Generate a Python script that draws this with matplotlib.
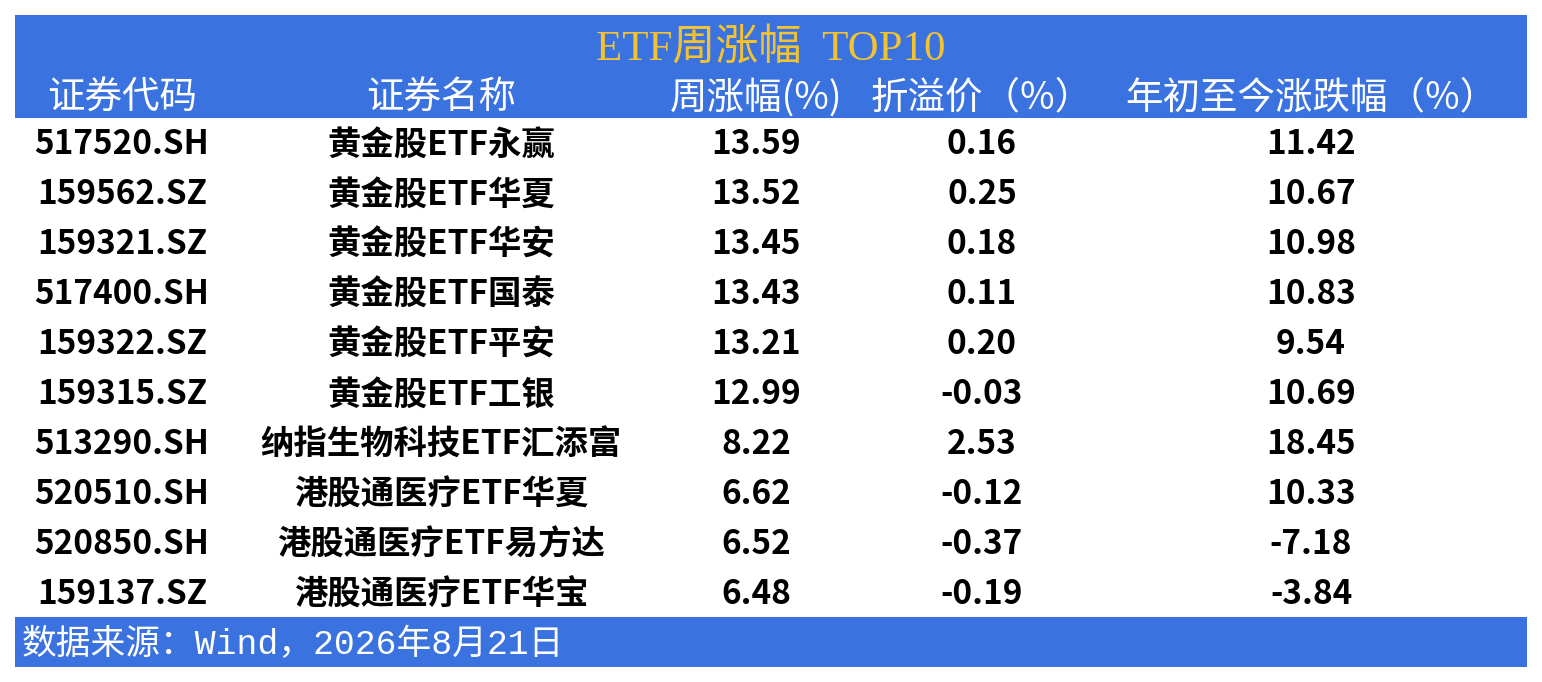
import matplotlib
matplotlib.use("Agg")
import matplotlib.pyplot as plt
from matplotlib.patches import Rectangle

plt.rcParams['font.family'] = ['Noto Sans CJK SC', 'DejaVu Sans']

title = "ETF周涨幅  TOP10"
headers = ["证券代码", "证券名称", "周涨幅(%)", "折溢价（%）", "年初至今涨跌幅（%）"]
codes = ["517520.SH", "159562.SZ", "159321.SZ", "517400.SH", "159322.SZ",
         "159315.SZ", "513290.SH", "520510.SH", "520850.SH", "159137.SZ"]
names = ["黄金股ETF永赢", "黄金股ETF华夏", "黄金股ETF华安", "黄金股ETF国泰", "黄金股ETF平安",
         "黄金股ETF工银", "纳指生物科技ETF汇添富", "港股通医疗ETF华夏", "港股通医疗ETF易方达", "港股通医疗ETF华宝"]
weekly = ["13.59", "13.52", "13.45", "13.43", "13.21", "12.99", "8.22", "6.62", "6.52", "6.48"]
premium = ["0.16", "0.25", "0.18", "0.11", "0.20", "-0.03", "2.53", "-0.12", "-0.37", "-0.19"]
ytd = ["11.42", "10.67", "10.98", "10.83", "9.54", "10.69", "18.45", "10.33", "-7.18", "-3.84"]
source = "数据来源：Wind，2026年8月21日"

blue = "#3A72E0"
gold = "#F2C232"

W, H = 1542, 682
fig = plt.figure(figsize=(W / 100, H / 100), dpi=100)
ax = fig.add_axes([0, 0, 1, 1])
ax.set_xlim(0, W)
ax.set_ylim(H, 0)
ax.axis("off")

left, right = 15, 1527
# header band and footer band
ax.add_patch(Rectangle((left, 15), right - left, 103, color=blue, lw=0))
ax.add_patch(Rectangle((left, 617), right - left, 50, color=blue, lw=0))

ax.text(771, 49, title, ha="center", va="center", fontsize=31, color=gold,
        family=["Liberation Serif", "Noto Sans CJK SC"])

col_x = [122, 441, 756, 982, 1311]
for x, h in zip(col_x, headers):
    ax.text(x, 98, h, ha="center", va="center", fontsize=27, color="white",
            fontweight="light")

columns = [codes, names, weekly, premium, ytd]
row0, step = 145, 50
for i in range(len(codes)):
    y = row0 + i * step
    for x, col in zip(col_x, columns):
        ax.text(x, y, col[i], ha="center", va="center", fontsize=24,
                color="black", fontweight="bold")

ax.text(22, 645, source, ha="left", va="center", fontsize=25, color="white",
        family=["Liberation Mono", "Noto Sans CJK SC"])

fig.savefig("out.png", dpi=100)
